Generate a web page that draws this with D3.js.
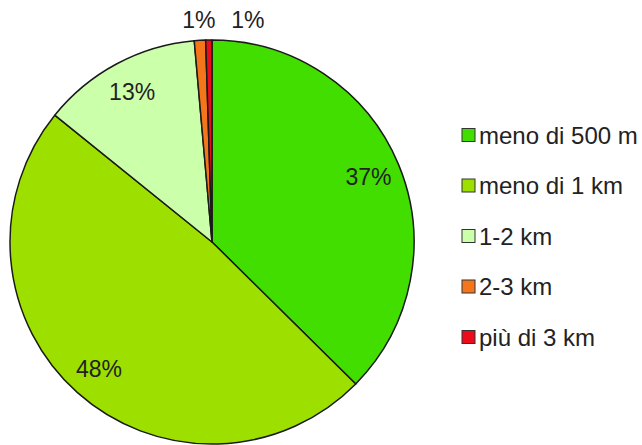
<!DOCTYPE html>
<html>
<head>
<meta charset="utf-8">
<script src="https://cdn.jsdelivr.net/npm/d3@7"></script>
<style>
  html, body { margin: 0; padding: 0; background: #fff; }
  svg { display: block; font-family: "Liberation Sans", Arial, sans-serif; }
</style>
</head>
<body>
<svg id="chart" width="642" height="445"></svg>
<script>
const categories = ["meno di 500 m", "meno di 1 km", "1-2 km", "2-3 km", "più di 3 km"];
const values = [37.4, 48.4, 12.8, 0.9, 0.5];
const colors = ["#41de00", "#9de000", "#ccffaa", "#f5761a", "#ec0b1a"];

const W = 642, H = 445;
const cx = 212, cy = 242, R = 202;
const svg = d3.select("#chart");

const data = categories.map((c, i) => ({ cat: c, value: values[i], color: colors[i] }));
const pie = d3.pie().value(d => d.value).sort(null);
const arcs = pie(data);
const arc = d3.arc().innerRadius(0).outerRadius(R);
const labelArc = d3.arc().innerRadius(R * 0.84).outerRadius(R * 0.84);

const g = svg.append("g").attr("transform", `translate(${cx},${cy})`);
g.selectAll("path.slice")
  .data(arcs)
  .join("path")
  .attr("class", "slice")
  .attr("d", arc)
  .attr("fill", d => d.data.color)
  .attr("stroke", "#1a1a1a")
  .attr("stroke-width", 1.5)
  .attr("stroke-linejoin", "round");

const fmt = v => Math.round(v) + "%";
const inside = arcs.filter(d => d.endAngle - d.startAngle > 0.3);
const outside = arcs.filter(d => d.endAngle - d.startAngle <= 0.3);

g.selectAll("text.in")
  .data(inside)
  .join("text")
  .attr("class", "in")
  .attr("x", d => labelArc.centroid(d)[0])
  .attr("y", d => labelArc.centroid(d)[1])
  .attr("text-anchor", "middle")
  .attr("dominant-baseline", "central")
  .attr("font-size", 23)
  .attr("fill", "#222")
  .text(d => fmt(d.data.value));

// outside labels for tiny slices, pushed apart to avoid overlap
const rOut = R + 20;
const outPos = outside.map(d => {
  const a = (d.startAngle + d.endAngle) / 2;
  return { d, x: rOut * Math.sin(a), y: -rOut * Math.cos(a) };
}).sort((a, b) => a.x - b.x);
const minGap = 49;
for (let i = 1; i < outPos.length; i++) {
  outPos[i].x = Math.max(outPos[i].x, outPos[i - 1].x + minGap);
  outPos[i].y = outPos[i - 1].y;
}
g.selectAll("text.out")
  .data(outPos)
  .join("text")
  .attr("class", "out")
  .attr("x", p => p.x)
  .attr("y", p => p.y)
  .attr("text-anchor", "middle")
  .attr("dominant-baseline", "central")
  .attr("font-size", 23)
  .attr("fill", "#222")
  .text(p => fmt(p.d.data.value));

// legend
const legend = svg.append("g").attr("transform", "translate(462,135)");
const rows = legend.selectAll("g.row")
  .data(data)
  .join("g")
  .attr("class", "row")
  .attr("transform", (d, i) => `translate(0,${i * 50.5})`);
rows.append("rect")
  .attr("x", 0).attr("y", -6.5)
  .attr("width", 13).attr("height", 13)
  .attr("fill", d => d.color)
  .attr("stroke", "#333")
  .attr("stroke-width", 1);
rows.append("text")
  .attr("x", 17)
  .attr("y", 0)
  .attr("dominant-baseline", "central")
  .attr("font-size", 24)
  .attr("fill", "#222")
  .text(d => d.cat);
</script>
</body>
</html>
